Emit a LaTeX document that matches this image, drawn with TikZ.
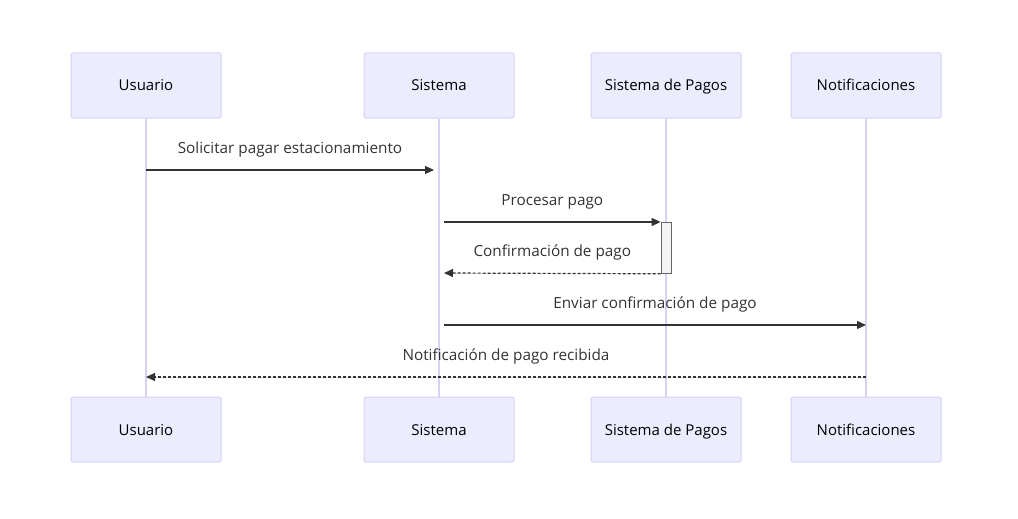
\documentclass[tikz,border=0pt]{standalone}
\usepackage{fontspec}
\setmainfont{Open Sans}
\usetikzlibrary{arrows.meta,positioning,calc}
\definecolor{actorfill}{HTML}{ECECFF}
\definecolor{actorline}{HTML}{D9D0F5}
\definecolor{msgline}{HTML}{333333}
\definecolor{actfill}{HTML}{F4F4F4}
\definecolor{actline}{HTML}{666666}

\begin{document}
\begin{tikzpicture}[
  x=1pt, y=-1pt,
  % --- Styles ---
  actor/.style={
    rectangle, rounded corners=2pt,
    draw=actorline, fill=actorfill, line width=1pt,
    minimum width=150pt, minimum height=65pt,
    text height=13pt, text depth=2pt,
    inner sep=0pt, font=\fontsize{15}{18}\selectfont
  },
  lifeline/.style={draw=actorline, line width=1.5pt},
  msg/.style={-{Triangle[length=9pt,width=8pt]}, draw=msgline, fill=msgline, line width=1.2pt},
  reply/.style={msg, densely dashed},
  msglabel/.style={font=\fontsize{15.3}{18}\selectfont, text=msgline, above=12.5pt, inner sep=0pt},
  activation/.style={draw=actline, fill=actfill, line width=0.8pt}
]
\useasboundingbox (0,0) rectangle (1018,519);

% ---- Actors (top row) ----
\node[actor] (usr)   at (146,85.5) {Usuario};
\node[actor] (sys)   at (439,85.5) {Sistema};
\node[actor] (pagos) at (666,85.5) {Sistema de Pagos};
\node[actor] (notif) at (866,85.5) {Notificaciones};

% ---- Actors (bottom row) ----
\node[actor] (usrB)   at (146,429.5) {Usuario};
\node[actor] (sysB)   at (439,429.5) {Sistema};
\node[actor] (pagosB) at (666,429.5) {Sistema de Pagos};
\node[actor] (notifB) at (866,429.5) {Notificaciones};

% ---- Lifelines ----
\draw[lifeline] (usr.south) -- (usrB.north);
\draw[lifeline] (sys.south) -- (sysB.north);
\draw[lifeline] (pagos.south) -- (pagosB.north);
\draw[lifeline] (notif.south) -- (notifB.north);

% ---- Activation on payment system ----
\node[activation, minimum width=10pt, minimum height=51pt, inner sep=0pt, anchor=north] (act) at (666,222) {};

% ---- Message anchors ----
\coordinate (m1a) at (usr.south |- 0,170);
\coordinate (m1b) at ($(sys.south |- 0,170)+(-5,0)$);
\coordinate (m2a) at ($(sys.south |- 0,222)+(5,0)$);
\coordinate (m2b) at (act.north west);
\coordinate (m3b) at ($(sys.south |- 0,273)+(5,0)$);
\coordinate (m4a) at ($(sys.south |- 0,325)+(5,0)$);
\coordinate (m4b) at (notif.south |- 0,325);
\coordinate (m5a) at (notif.south |- 0,377);
\coordinate (m5b) at (usr.south |- 0,377);

% ---- Messages ----
\draw[msg] (m1a) -- node[msglabel] {Solicitar pagar estacionamiento} (m1b);
\draw[msg] (m2a) -- node[msglabel] {Procesar pago} (m2b);
\draw[reply] (act.south west) -- node[msglabel] {Confirmación de pago} (m3b);
\draw[msg] (m4a) -- node[msglabel] {Enviar confirmación de pago} (m4b);
\draw[reply] (m5a) -- node[msglabel] {Notificación de pago recibida} (m5b);

\end{tikzpicture}
\end{document}
